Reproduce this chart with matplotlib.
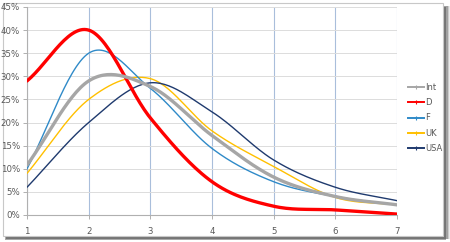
import numpy as np
import matplotlib
matplotlib.use("Agg")
import matplotlib.pyplot as plt
from matplotlib.patches import Rectangle
from matplotlib.lines import Line2D

x_vals = [1, 2, 3, 4, 5, 6, 7]
series_names = ["Int", "D", "F", "UK", "USA"]
int_vals = [10.8, 29.0, 27.8, 17.2, 8.2, 4.0, 2.2]
d_vals = [29.0, 40.0, 21.0, 7.2, 1.9, 1.1, 0.2]
f_vals = [10.0, 35.0, 27.4, 14.4, 7.2, 4.0, 2.2]
uk_vals = [9.0, 25.0, 29.5, 18.2, 10.5, 3.8, 2.2]
usa_vals = [6.0, 20.0, 28.6, 22.3, 11.9, 6.0, 3.1]
y_ticks = [0, 5, 10, 15, 20, 25, 30, 35, 40, 45]

colors = ["#a6a6a6", "#ff0000", "#2f8ac8", "#ffc000", "#1f3a6e"]
widths = [2.4, 2.4, 1.0, 1.0, 1.0]


def smooth(xs, ys, n=30):
    xs = np.asarray(xs, float)
    ys = np.asarray(ys, float)
    m = len(xs)
    tang = np.zeros(m)
    tang[0] = ys[1] - ys[0]
    tang[-1] = ys[-1] - ys[-2]
    for i in range(1, m - 1):
        tang[i] = (ys[i + 1] - ys[i - 1]) / 2.0
    ox, oy = [], []
    for i in range(m - 1):
        t = np.linspace(0, 1, n, endpoint=(i == m - 2))
        h00 = 2 * t**3 - 3 * t**2 + 1
        h10 = t**3 - 2 * t**2 + t
        h01 = -2 * t**3 + 3 * t**2
        h11 = t**3 - t**2
        oy.extend(h00 * ys[i] + h10 * tang[i] + h01 * ys[i + 1] + h11 * tang[i + 1])
        ox.extend(xs[i] + t * (xs[i + 1] - xs[i]))
    return np.array(ox), np.array(oy)


fig = plt.figure(figsize=(4.5, 2.42), dpi=100)
fig.patch.set_facecolor("white")

# panel shadow and border
for k, a in enumerate([0.10, 0.18, 0.30, 0.45]):
    off = (4 - k)
    fig.patches.append(Rectangle((5 / 450 + off / 450 * 0.3, (242 - 240 + off * 0.3) / 242),
                                 (440 + 4 - k) / 450, (233) / 242,
                                 transform=fig.transFigure, facecolor="#404040",
                                 alpha=a, edgecolor="none", zorder=0))
fig.patches.append(Rectangle((3 / 450, 6 / 242), 440 / 450, 233 / 242,
                             transform=fig.transFigure, facecolor="white",
                             edgecolor="#c8c8c8", linewidth=0.8, zorder=1))

ax = fig.add_axes([27 / 450, 1 - 215 / 242, 370 / 450, 208 / 242])
ax.set_zorder(2)
ax.patch.set_alpha(0)

all_vals = [int_vals, d_vals, f_vals, uk_vals, usa_vals]
order = [4, 3, 2, 0, 1]
handles = []
for i, (name, vals) in enumerate(zip(series_names, all_vals)):
    sx, sy = smooth(x_vals, vals)
    ax.plot(sx, sy, color=colors[i], lw=widths[i], solid_capstyle="round",
            zorder=3 + order[i])
    handles.append(Line2D([0], [0], color=colors[i], lw=1.4, marker="|",
                          markersize=3, markeredgewidth=0.8, label=name))

ax.set_xlim(1, 7)
ax.set_ylim(0, 45)
ax.set_yticks(y_ticks)
ax.set_yticklabels([f"{v}%" for v in y_ticks])
ax.set_xticks(x_vals)
ax.set_xticklabels([str(v) for v in x_vals])
ax.grid(axis="y", color="#dcdcdc", lw=0.7)
ax.grid(axis="x", color="#a9bedb", lw=0.8)
ax.set_axisbelow(True)
for s in ["top", "right"]:
    ax.spines[s].set_visible(False)
ax.spines["left"].set_color("#b0b0b0")
ax.spines["bottom"].set_color("#b0b0b0")
ax.spines["left"].set_linewidth(0.8)
ax.spines["bottom"].set_linewidth(0.8)
ax.tick_params(axis="both", colors="#b0b0b0", labelcolor="#595959",
               labelsize=6.2, length=3, width=0.7, pad=2)
ax.tick_params(axis="x", pad=6)

leg = fig.legend(handles=handles, loc="center left",
                 bbox_to_anchor=(400 / 450, 1 - 118 / 242),
                 frameon=False, fontsize=6, handlelength=2.0,
                 handletextpad=0.1, labelspacing=0.75, labelcolor="#595959")

fig.savefig("out.png", dpi=100)
